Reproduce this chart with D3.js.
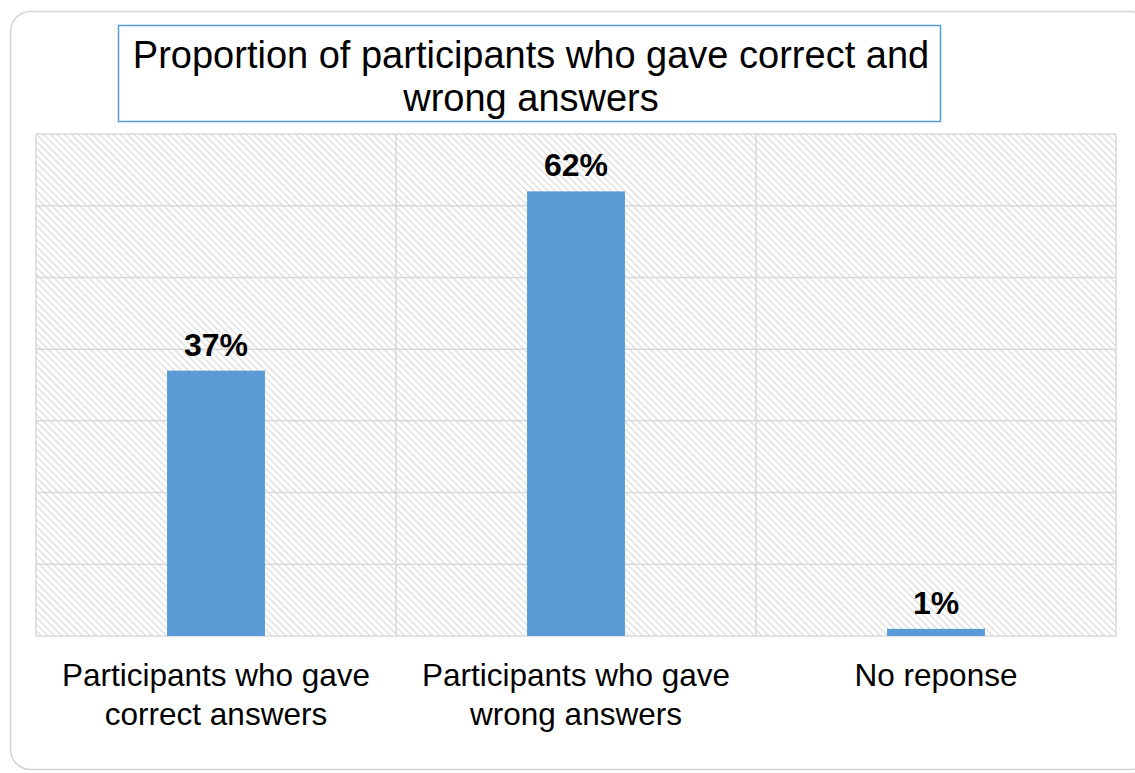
<!DOCTYPE html>
<html>
<head>
<meta charset="utf-8">
<script src="https://cdn.jsdelivr.net/npm/d3@7"></script>
<style>
  html, body { margin: 0; padding: 0; background: #fff; }
  svg { display: block; }
  text { font-family: "Liberation Sans", Arial, sans-serif; fill: #000; }
</style>
</head>
<body>
<svg id="chart" width="1135" height="773"></svg>
<script>
// Survey results: share of participants by answer type
const categories = [
  ["Participants who gave", "correct answers"],
  ["Participants who gave", "wrong answers"],
  ["No reponse"]
];
const values = [37, 62, 1];           // percent
const yTicks = [0, 10, 20, 30, 40, 50, 60, 70];
const titleLines = ["Proportion of participants who gave correct and", "wrong answers"];

const plot = { left: 36, top: 134, right: 1116, bottom: 636 };

const svg = d3.select("#chart");

// hatched plot background
const defs = svg.append("defs");
const pat = defs.append("pattern")
  .attr("id", "hatch")
  .attr("patternUnits", "userSpaceOnUse")
  .attr("width", 7).attr("height", 7);
pat.append("rect").attr("width", 7).attr("height", 7).attr("fill", "#fff");
pat.append("path")
  .attr("d", "M-1,-1 L8,8 M-8,-1 L1,8 M6,-1 L15,8")
  .attr("stroke", "#dedede")
  .attr("stroke-width", 1.3);

// outer rounded frame
svg.append("rect")
  .attr("x", 10.5).attr("y", 11.5)
  .attr("width", 1140).attr("height", 758)
  .attr("rx", 20).attr("ry", 20)
  .attr("fill", "#fff")
  .attr("stroke", "#d4d4d4")
  .attr("stroke-width", 1.5);

const x = d3.scaleBand()
  .domain(d3.range(categories.length))
  .range([plot.left, plot.right])
  .padding(0);

const y = d3.scaleLinear()
  .domain([0, 70])
  .range([plot.bottom, plot.top]);

svg.append("rect")
  .attr("x", plot.left).attr("y", plot.top)
  .attr("width", plot.right - plot.left)
  .attr("height", plot.bottom - plot.top)
  .attr("fill", "url(#hatch)");

// horizontal gridlines
svg.append("g")
  .selectAll("line")
  .data(yTicks)
  .join("line")
  .attr("x1", plot.left).attr("x2", plot.right)
  .attr("y1", d => y(d)).attr("y2", d => y(d))
  .attr("stroke", "#d9d9d9")
  .attr("stroke-width", 1.5);

// vertical gridlines at category boundaries
const vBounds = d3.range(categories.length + 1).map(i =>
  i < categories.length ? x(i) : x(categories.length - 1) + x.bandwidth());
svg.append("g")
  .selectAll("line")
  .data(vBounds)
  .join("line")
  .attr("x1", d => d).attr("x2", d => d)
  .attr("y1", plot.top).attr("y2", plot.bottom)
  .attr("stroke", "#d9d9d9")
  .attr("stroke-width", 1.5);

// bars
const barW = x.bandwidth() * 0.272;
svg.append("g")
  .selectAll("rect")
  .data(values)
  .join("rect")
  .attr("x", (d, i) => x(i) + (x.bandwidth() - barW) / 2)
  .attr("y", d => y(d))
  .attr("width", barW)
  .attr("height", d => y(0) - y(d))
  .attr("fill", "#5b9bd5");

// value labels
svg.append("g")
  .selectAll("text")
  .data(values)
  .join("text")
  .attr("x", (d, i) => x(i) + x.bandwidth() / 2)
  .attr("y", d => y(d) - 15)
  .attr("text-anchor", "middle")
  .attr("font-size", 32)
  .attr("font-weight", "bold")
  .text(d => d + "%");

// category labels
const catG = svg.append("g")
  .selectAll("text")
  .data(categories)
  .join("text")
  .attr("text-anchor", "middle")
  .attr("font-size", 31.5);
catG.selectAll("tspan")
  .data((d, i) => d.map(s => ({ s, i })))
  .join("tspan")
  .attr("x", d => x(d.i) + x.bandwidth() / 2)
  .attr("y", (d, j) => 686 + j * 39)
  .text(d => d.s);

// title box
svg.append("rect")
  .attr("x", 118.5).attr("y", 25.5)
  .attr("width", 822).attr("height", 96)
  .attr("fill", "#fff")
  .attr("stroke", "#5b9bd5")
  .attr("stroke-width", 1.5);

svg.append("text")
  .attr("text-anchor", "middle")
  .attr("font-size", 38)
  .selectAll("tspan")
  .data(titleLines)
  .join("tspan")
  .attr("x", 531)
  .attr("y", (d, i) => 68 + i * 43)
  .text(d => d);
</script>
</body>
</html>
